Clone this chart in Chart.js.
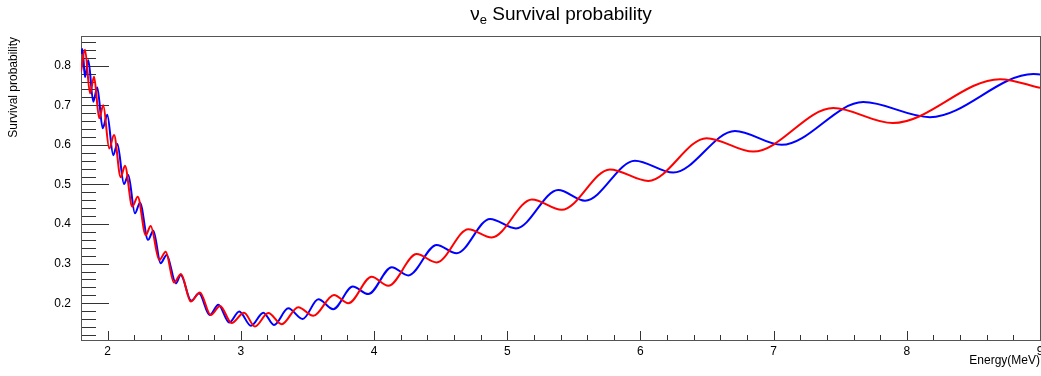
<!DOCTYPE html>
<html>
<head>
<meta charset="utf-8">
<script src="https://cdn.jsdelivr.net/npm/chart.js@4/dist/chart.umd.min.js"></script>
<style>
  html, body { margin: 0; padding: 0; background: #fff; }
  canvas { display: block; }
</style>
</head>
<body>
<canvas id="myChart" width="1041" height="376"></canvas>
<script>
// axis ranges and labelled ticks
const energyRange = [1.8, 9.0]
const probRange = [0.107, 0.875]
const energyTicks = [2, 3, 4, 5, 6, 7, 8, 9]
const probTicks = [0.2, 0.3, 0.4, 0.5, 0.6, 0.7, 0.8]

// blue curve, sampled at its wiggles (MeV, probability)
const blueEnergy = [1.800, 1.811, 1.830, 1.855, 1.892, 1.922, 1.963, 1.997, 2.042, 2.073,
  2.123, 2.155, 2.205, 2.243, 2.303, 2.343, 2.398, 2.443, 2.513, 2.548,
  2.628, 2.686, 2.766, 2.831, 2.913, 2.988, 3.076, 3.169, 3.249, 3.356,
  3.464, 3.582, 3.694, 3.840, 3.957, 4.133, 4.257, 4.470, 4.620, 4.871,
  5.066, 5.383, 5.584, 5.959, 6.247, 6.710, 7.060, 7.673, 8.174, 8.950, 9.000]
const blueProb = [0.830, 0.842, 0.771, 0.814, 0.709, 0.745, 0.642, 0.676, 0.574, 0.602,
  0.501, 0.524, 0.427, 0.454, 0.360, 0.383, 0.301, 0.322, 0.250, 0.271,
  0.206, 0.225, 0.170, 0.196, 0.151, 0.179, 0.143, 0.176, 0.145, 0.187,
  0.160, 0.210, 0.185, 0.242, 0.223, 0.291, 0.270, 0.347, 0.326, 0.413,
  0.389, 0.486, 0.459, 0.560, 0.530, 0.635, 0.600, 0.708, 0.670, 0.779, 0.778]

// red curve
const redEnergy = [1.800, 1.830, 1.868, 1.898, 1.937, 1.967, 2.012, 2.048, 2.098, 2.130,
  2.185, 2.226, 2.286, 2.323, 2.388, 2.436, 2.498, 2.551, 2.624, 2.693,
  2.774, 2.844, 2.931, 3.024, 3.106, 3.206, 3.307, 3.431, 3.544, 3.699,
  3.807, 3.982, 4.107, 4.320, 4.470, 4.708, 4.883, 5.186, 5.409, 5.771,
  6.059, 6.497, 6.847, 7.448, 7.895, 8.700, 9.000]
const redProb = [0.785, 0.840, 0.730, 0.772, 0.667, 0.700, 0.591, 0.625, 0.518, 0.547,
  0.444, 0.469, 0.372, 0.395, 0.309, 0.330, 0.252, 0.274, 0.204, 0.227,
  0.170, 0.193, 0.150, 0.176, 0.141, 0.175, 0.147, 0.190, 0.168, 0.221,
  0.200, 0.267, 0.244, 0.324, 0.303, 0.387, 0.366, 0.462, 0.436, 0.538,
  0.509, 0.617, 0.583, 0.693, 0.655, 0.766, 0.744]

const FONT = '"Liberation Sans", Arial, sans-serif'

function toPoints(xs, ys) {
  return xs.map((x, i) => ({ x: x, y: ys[i] }))
}

// frame, inward ticks and the text around the pad
const padDecor = {
  id: "padDecor",
  beforeDatasetsDraw(chart) {
    const { ctx, chartArea: a, scales: { x, y } } = chart
    ctx.save()
    ctx.strokeStyle = "#333"
    ctx.lineWidth = 1
    ctx.beginPath()
    // y: minor every 0.02, major every 0.1
    for (let i = 6; i <= 43; i++) {
      const v = i * 0.02
      if (v < y.min || v > y.max) continue
      const py = Math.round(y.getPixelForValue(v)) + 0.5
      const len = i % 5 === 0 ? 28 : 15
      ctx.moveTo(a.left, py)
      ctx.lineTo(a.left + len, py)
    }
    // x: minor every 0.2, major every 1
    for (let i = 10; i <= 45; i++) {
      const v = i * 0.2
      const px = Math.round(x.getPixelForValue(v)) + 0.5
      const len = i % 5 === 0 ? 9 : 5
      ctx.moveTo(px, a.bottom)
      ctx.lineTo(px, a.bottom - len)
    }
    ctx.stroke()

    ctx.strokeStyle = "#555"
    ctx.strokeRect(a.left + 0.5, a.top + 0.5, a.right - a.left, a.bottom - a.top)
    ctx.restore()
  },
  afterDraw(chart) {
    const { ctx, chartArea: a } = chart
    ctx.save()
    ctx.fillStyle = "#000"

    // title with subscript e
    const nu = "\u03bd", sub = "e", rest = " Survival probability"
    ctx.font = "19px " + FONT
    const wNu = ctx.measureText(nu).width
    const wRest = ctx.measureText(rest).width
    ctx.font = "13px " + FONT
    const wSub = ctx.measureText(sub).width
    let tx = 561 - (wNu + wSub + wRest) / 2
    ctx.textBaseline = "alphabetic"
    ctx.textAlign = "left"
    ctx.font = "19px " + FONT
    ctx.fillText(nu, tx, 20)
    tx += wNu
    ctx.font = "13px " + FONT
    ctx.fillText(sub, tx, 24)
    tx += wSub
    ctx.font = "19px " + FONT
    ctx.fillText(rest, tx, 20)

    // axis titles
    ctx.font = "12px " + FONT
    ctx.textAlign = "right"
    ctx.textBaseline = "middle"
    ctx.fillText("Energy(MeV)", a.right, 361)

    ctx.translate(14, a.top + 1)
    ctx.rotate(-Math.PI / 2)
    ctx.fillText("Survival probability", 0, 0)
    ctx.restore()
  }
}

const ctx = document.getElementById("myChart").getContext("2d")
const chart = new Chart(ctx, {
  type: "line",
  data: {
    datasets: [
      {
        label: "red",
        data: toPoints(redEnergy, redProb),
        borderColor: "#ff0000",
        borderWidth: 2
      },
      {
        label: "blue",
        data: toPoints(blueEnergy, blueProb),
        borderColor: "#0000ff",
        borderWidth: 2
      }
    ]
  },
  options: {
    responsive: false,
    animation: false,
    events: [],
    layout: { padding: { top: 36, right: 1, left: 0, bottom: 0 } },
    elements: {
      point: { radius: 0 },
      line: { cubicInterpolationMode: "monotone", fill: false }
    },
    plugins: {
      legend: { display: false },
      tooltip: { enabled: false },
      title: { display: false }
    },
    scales: {
      x: {
        type: "linear",
        min: energyRange[0],
        max: energyRange[1],
        grid: { display: false, drawTicks: false },
        border: { display: false },
        ticks: {
          color: "#000",
          font: { family: FONT, size: 12 },
          padding: 4,
          maxRotation: 0,
          autoSkip: false,
          callback: v => String(v)
        },
        afterBuildTicks: s => { s.ticks = energyTicks.map(v => ({ value: v })) },
        afterFit: s => { s.height = 36; s.paddingLeft = 0; s.paddingRight = 0 }
      },
      y: {
        type: "linear",
        min: probRange[0],
        max: probRange[1],
        grid: { display: false, drawTicks: false },
        border: { display: false },
        ticks: {
          color: "#000",
          font: { family: FONT, size: 12 },
          padding: 10,
          autoSkip: false,
          callback: v => v.toFixed(1)
        },
        afterBuildTicks: s => { s.ticks = probTicks.map(v => ({ value: v })) },
        afterFit: s => { s.width = 81; s.paddingTop = 0; s.paddingBottom = 0 }
      }
    }
  },
  plugins: [padDecor]
})
</script>
</body>
</html>
